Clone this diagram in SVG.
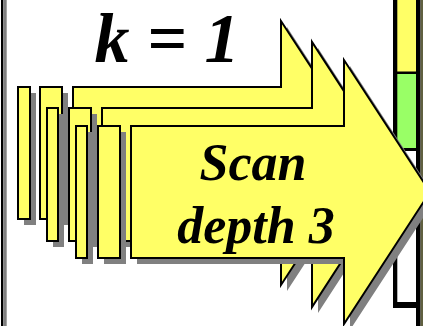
<svg xmlns="http://www.w3.org/2000/svg" xmlns:xlink="http://www.w3.org/1999/xlink" width="423" height="326" viewBox="0 0 423 326">
  <style>
    .shadow{fill:#808080;stroke:none}
    .arrow{fill:#ffff66;stroke:#000;stroke-width:2;stroke-linejoin:miter}
    .big{font-family:"Liberation Serif","Times New Roman",serif;font-weight:bold;font-style:italic;fill:#000;text-anchor:middle}
    .ink{fill:#000}
  </style>
  <defs>
    <g id="shapeA">
      <rect x="18" y="87" width="12" height="132"/>
      <rect x="40" y="87" width="22" height="132"/>
      <polygon points="73,87 281,87 281,21 367,153 281,285 281,219 73,219"/>
    </g>
    <g id="shapeB">
      <rect x="47" y="108" width="11" height="133"/>
      <rect x="69" y="108" width="22" height="133"/>
      <polygon points="102,108 312,108 312,42 398,174.5 312,307 312,241 102,241"/>
    </g>
    <g id="shapeC">
      <rect x="76" y="126" width="11" height="132"/>
      <rect x="98" y="126" width="22" height="132"/>
      <polygon points="131,126 344,126 344,60 430,192 344,324 344,258 131,258"/>
    </g>
  </defs>

  <g id="frame-left">
    <rect x="1" y="0" width="2.3" height="326" class="ink"/>
    <rect x="3.3" y="0" width="3.4" height="326" fill="#808080"/>
  </g>

  <g id="column-right">
    <rect x="397" y="0" width="19" height="72" fill="#ffff66"/>
    <rect x="397" y="74" width="19" height="74" fill="#99ff66"/>
    <rect x="393" y="0" width="4.3" height="308" class="ink"/>
    <rect x="416" y="0" width="4.6" height="326" class="ink"/>
    <rect x="420.6" y="0" width="2.4" height="326" fill="#606040"/>
    <rect x="397" y="71.5" width="19" height="2.5" class="ink"/>
    <rect x="397" y="148" width="19" height="3" class="ink"/>
    <rect x="393" y="302" width="27" height="6" class="ink"/>
  </g>

  <g id="label-k">
    <text class="big" x="167" y="62" font-size="70">k = 1</text>
  </g>

  <g id="arrow-a">
    <use xlink:href="#shapeA" class="shadow" transform="translate(6,6)"/>
    <use xlink:href="#shapeA" class="arrow"/>
  </g>
  <g id="arrow-b">
    <use xlink:href="#shapeB" class="shadow" transform="translate(6,6)"/>
    <use xlink:href="#shapeB" class="arrow"/>
  </g>
  <g id="arrow-c">
    <use xlink:href="#shapeC" class="shadow" transform="translate(6,6)"/>
    <use xlink:href="#shapeC" class="arrow"/>
    <text class="big" x="253" y="180" font-size="52">Scan</text>
    <text class="big" x="256" y="243" font-size="52">depth 3</text>
  </g>
</svg>
